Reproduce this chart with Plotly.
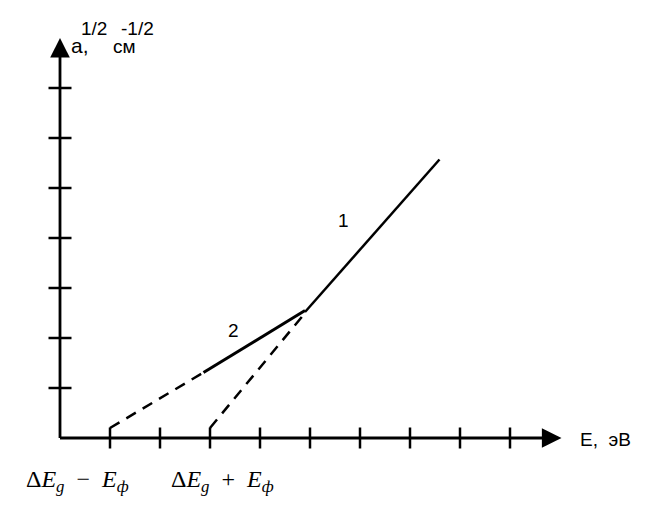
import plotly.graph_objects as go

# axis tick positions (in grid units, 1 unit = one tick step)
x_ticks = [1, 2, 3, 4, 5, 6, 7, 8, 9]
y_ticks = [1, 2, 3, 4, 5, 6, 7]

# curve 1 (steep branch) and curve 2 (shallow branch)
line1_x = [4.9, 7.59]
line1_y = [2.52, 5.57]
line2_x = [2.87, 4.9]
line2_y = [1.31, 2.55]

# dashed extrapolations down to the E axis
dash2_x = [1.0, 2.87]
dash2_y = [0.2, 1.31]
dash1_x = [3.0, 4.86]
dash1_y = [0.2, 2.45]

x_end = 10.03
y_end = 8.0

fig = go.Figure()

# tick marks crossing the axes
tx, ty = [], []
for t in x_ticks:
    tx += [t, t, None]
    ty += [-0.21, 0.21, None]
for t in y_ticks:
    tx += [-0.23, 0.23, None]
    ty += [t, t, None]
fig.add_trace(go.Scatter(x=tx, y=ty, mode="lines",
                         line=dict(color="black", width=2.5), hoverinfo="skip"))

fig.add_trace(go.Scatter(x=line1_x, y=line1_y, mode="lines",
                         line=dict(color="black", width=2.5)))
fig.add_trace(go.Scatter(x=line2_x, y=line2_y, mode="lines",
                         line=dict(color="black", width=3)))
fig.add_trace(go.Scatter(x=dash2_x, y=dash2_y, mode="lines",
                         line=dict(color="black", width=2.5, dash="11px,8px")))
fig.add_trace(go.Scatter(x=dash1_x, y=dash1_y, mode="lines",
                         line=dict(color="black", width=2.5, dash="11px,8px")))

arrow = dict(showarrow=True, text="", axref="x", ayref="y", xref="x", yref="y",
             arrowhead=2, arrowsize=1.4, arrowwidth=2.8, arrowcolor="black", standoff=0)
fig.add_annotation(x=x_end, y=0, ax=-0.03, ay=0, **arrow)
fig.add_annotation(x=0, y=y_end, ax=0, ay=-0.03, **arrow)

sans = dict(family="Arial, Liberation Sans, sans-serif", size=19, color="black")
serif = dict(family="Times New Roman, Liberation Serif, serif", size=24, color="black")

def label(x, y, text, font=sans, xanchor="center"):
    fig.add_annotation(x=x, y=y, text=text, showarrow=False, font=font,
                       xanchor=xanchor, yanchor="middle")

label(0.4, 7.86, "a,", font=dict(sans, size=21))
label(0.68, 8.2, "1/2")
label(1.29, 7.84, "см")
label(1.54, 8.2, "-1/2")
label(10.36, -0.02, "E,  эВ", xanchor="left")
label(5.66, 4.36, "1")
label(3.46, 2.16, "2")
label(0.34, -0.86, "Δ<i>E</i><sub><i>g</i></sub>  −  <i>E</i><sub><i>ф</i></sub>", font=serif)
label(3.24, -0.86, "Δ<i>E</i><sub><i>g</i></sub>  +  <i>E</i><sub><i>ф</i></sub>", font=serif)

# page has an 8px body margin, so the figure is drawn 8px smaller
fig.update_xaxes(range=[-1.04, 11.84], visible=False, fixedrange=True)
fig.update_yaxes(range=[-1.76, 8.6], visible=False, fixedrange=True)
fig.update_layout(width=644, height=518, margin=dict(l=0, r=0, t=0, b=0),
                  showlegend=False, plot_bgcolor="white", paper_bgcolor="white")

fig.write_html("out.html")
